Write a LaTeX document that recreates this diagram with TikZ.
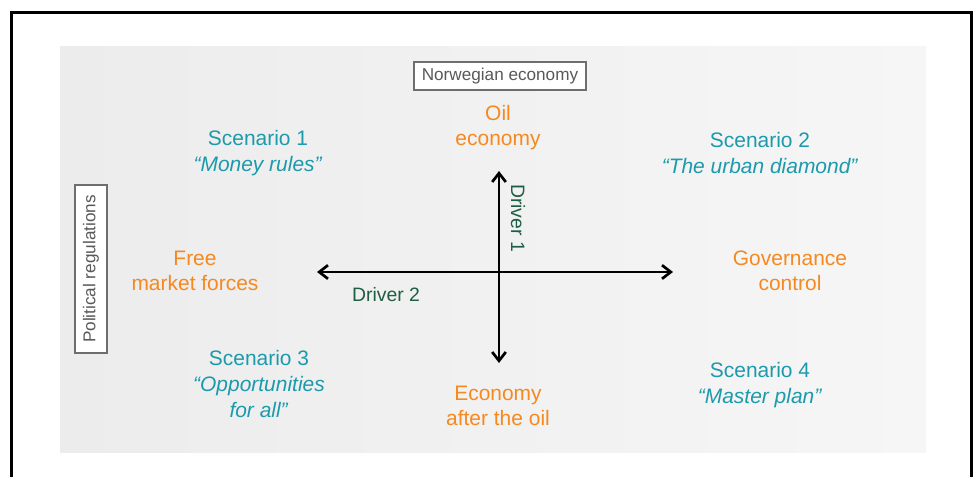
\documentclass[tikz,border=0pt]{standalone}
\usepackage{fontspec}
\setmainfont{Liberation Sans}
\usepackage{xcolor}
\usetikzlibrary{arrows.meta,positioning,calc}

\definecolor{scenteal}{HTML}{1C9AAC}
\definecolor{poleorange}{HTML}{F5891F}
\definecolor{drivergreen}{HTML}{1D5E44}
\definecolor{framegray}{HTML}{6E6E6E}

\begin{document}
\begin{tikzpicture}[x=0.025cm, y=-0.025cm,
    scen/.style={text=scenteal, align=center, font=\fontsize{14.9}{18.2}\selectfont},
    pole/.style={text=poleorange, align=center, font=\fontsize{14.9}{17.8}\selectfont},
    axisbox/.style={rectangle, draw=framegray, line width=1.4pt, fill=white, text=black!65,
        font=\fontsize{12.2}{14}\selectfont, inner xsep=0.2cm, minimum height=0.72cm},
    driver/.style={text=drivergreen, font=\fontsize{13.8}{16}\selectfont},
    axis/.style={{Straight Barb[length=0.22cm, width=0.34cm]}-{Straight Barb[length=0.22cm, width=0.34cm]}, line width=1.9pt}
]
    \useasboundingbox (0,0) rectangle (975,477);

    % Frame and background panel
    \draw[line width=2.2pt] (11.5,477) -- (11.5,12.5) -- (971.5,12.5) -- (971.5,477);
    \shade[left color={rgb,255:red,236;green,236;blue,236}, right color={rgb,255:red,246;green,246;blue,246}]
        (60,47) rectangle (926,453);

    % Axis titles
    \node[axisbox] (norway) at (500,76) {Norwegian economy};
    \node[axisbox, rotate=90, minimum height=0.8cm, inner xsep=0.25cm] (polreg) at (91,269) {Political regulations};

    % Poles
    \node[pole] (oil) at (498,128) {Oil\\economy};
    \node[pole] (free) at (195,271) {Free\\market forces};
    \node[pole] (gov) at (790,271) {Governance\\control};
    \node[pole] (after) at (498,406) {Economy\\after the oil};

    % Scenarios
    \node[scen] (sc1) at (258,153) {Scenario 1\\\textit{“Money rules”}};
    \node[scen] (sc2) at (760,153) {Scenario 2\\\textit{“The urban diamond”}};
    \node[scen] (sc3) at (259,384) {Scenario 3\\\textit{“Opportunities}\\\textit{for all”}};
    \node[scen] (sc4) at (760,385) {Scenario 4\\\textit{“Master plan”}};

    % Axes
    \coordinate (vtop) at (499,171);
    \coordinate (vbot) at (499,363);
    \coordinate (hleft) at (317,272);
    \coordinate (hright) at (673,272);
    \draw[axis] (vtop) -- (vbot);
    \draw[axis] (hleft) -- (hright);

    % Driver labels
    \node[driver, rotate=-90] (drv1) at (518,218) {Driver 1};
    \node[driver] (drv2) at (386,295) {Driver 2};
\end{tikzpicture}
\end{document}
